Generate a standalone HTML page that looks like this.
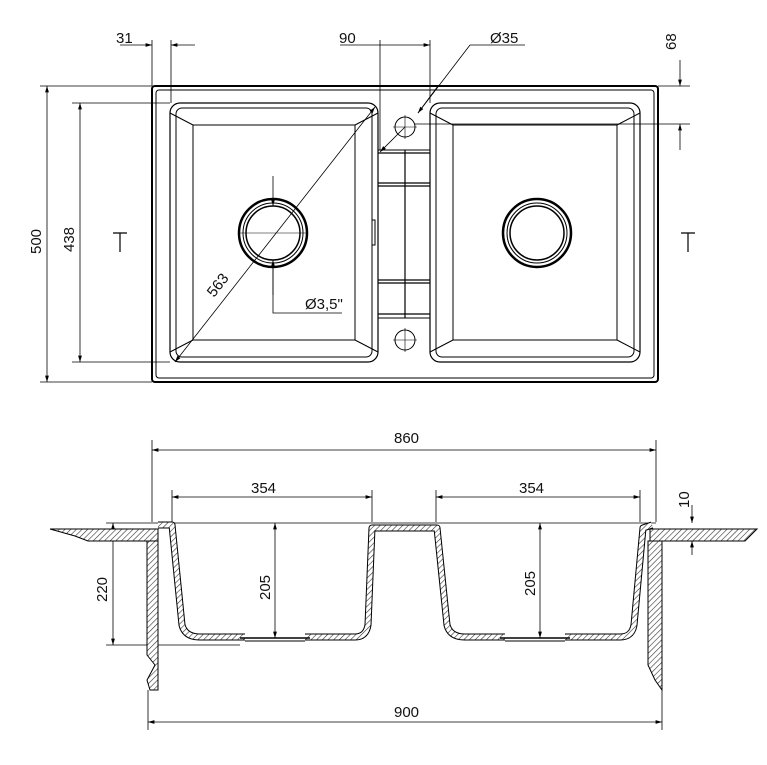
<!DOCTYPE html>
<html><head><meta charset="utf-8"><style>
body{margin:0;background:#fff}
svg{display:block}
text{font-family:"Liberation Sans Narrow","Liberation Sans",sans-serif;font-size:15px;fill:#111}
</style></head><body>
<svg width="767" height="765" viewBox="0 0 767 765" xmlns="http://www.w3.org/2000/svg">
<defs>
<pattern id="h" width="4" height="4" patternUnits="userSpaceOnUse" patternTransform="rotate(45)">
<rect width="4" height="4" fill="#fff"/><line x1="0" y1="0" x2="0" y2="4" stroke="#333" stroke-width="1.2"/></pattern>
<marker id="a" viewBox="0 0 10 10" refX="10" refY="5" markerWidth="8" markerHeight="8" orient="auto-start-reverse"><path d="M0,2 L10,5 L0,8z" fill="#000"/></marker>
</defs>
<g fill="none" stroke="#000" stroke-width="1">
<rect x="152" y="86" width="506" height="296" rx="3" stroke-width="2"/>
<rect x="156" y="90" width="498" height="288" rx="3"/>
<rect x="170" y="103" width="208" height="259" rx="10" stroke-width="1.2"/>
<rect x="176" y="108" width="196" height="249" rx="6"/>
<rect x="193" y="125" width="162" height="215"/>
<rect x="430" y="103" width="210" height="259" rx="10" stroke-width="1.2"/>
<rect x="436" y="108" width="198" height="249" rx="6"/>
<rect x="453" y="125" width="164" height="215"/>
<path d="M170,113 L193,125 M378,113 L355,125 M170,352 L193,340 M378,352 L355,340 M430,113 L453,125 M640,113 L617,125 M430,352 L453,340 M640,352 L617,340"/>
<rect x="378" y="150" width="52" height="168"/>
<path d="M378,153 H430 M378,183 H430 M378,186 H430 M378,280 H430 M378,283 H430 M378,314 H430 M405,150 V318" stroke-width="1.2"/>
<rect x="372" y="220" width="3" height="25"/>
<circle cx="405" cy="127" r="10"/><circle cx="405" cy="340" r="10"/>
<path d="M393,127 H417 M405,115 V139 M393,340 H417 M405,328 V352" stroke-width=".6"/>
<circle cx="273" cy="233" r="34" stroke-width="2.5"/><circle cx="273" cy="233" r="30"/><circle cx="273" cy="233" r="27" stroke-width="1.5"/>
<circle cx="537" cy="233" r="34" stroke-width="2.5"/><circle cx="537" cy="233" r="30"/><circle cx="537" cy="233" r="27" stroke-width="1.5"/>
<path d="M240,233 H306" stroke-width=".6"/>
<path d="M273,176 V206" marker-end="url(#a)" stroke-width=".8"/>
<path d="M273,295 V260" marker-end="url(#a)" stroke-width=".8"/>
<path d="M273,260 V313 H342" stroke-width=".8"/>
<path d="M175,362 L375,107" marker-start="url(#a)" marker-end="url(#a)" stroke-width=".8"/>
<g stroke-width=".8">
<path d="M40,86 H152 M72,103 H170 M40,382 H152 M72,362 H170"/>
<path d="M47,86 V382" marker-start="url(#a)" marker-end="url(#a)"/>
<path d="M80,103 V362" marker-start="url(#a)" marker-end="url(#a)"/>
<path d="M152,40 V86 M171,40 V103"/>
<path d="M120,45 H152" marker-end="url(#a)"/><path d="M195,45 H171" marker-end="url(#a)"/>
<path d="M380,40 V150 M430,40 V103"/>
<path d="M340,45 H380 M380,45 H430" marker-end="url(#a)"/>
<path d="M470,45 H525 M470,45 L418,113" /><path d="M438,86 L418,113" marker-end="url(#a)"/>
<path d="M405,127 L380,152" marker-end="url(#a)"/>
<path d="M658,86 H690 M415,124 H690"/>
<path d="M680,60 V86" marker-end="url(#a)"/><path d="M680,150 V124" marker-end="url(#a)"/>
<path d="M113,233 H127 M120,233 V252 M681,233 H695 M688,233 V252" stroke-width="1.2"/>
<path d="M152,440 V522 M656,440 V522"/>
<path d="M152,450 H656" marker-start="url(#a)" marker-end="url(#a)"/>
<path d="M172,490 V522 M372,490 V522 M436,490 V522 M640,490 V522"/>
<path d="M172,497 H372" marker-start="url(#a)" marker-end="url(#a)"/>
<path d="M436,497 H640" marker-start="url(#a)" marker-end="url(#a)"/>
<path d="M148,690 V730 M662,690 V730"/>
<path d="M148,722 H662" marker-start="url(#a)" marker-end="url(#a)"/>
<path d="M106,523 H160 M106,645 H240"/>
<path d="M113,523 V645" marker-start="url(#a)" marker-end="url(#a)"/>
<path d="M275,523 V638" marker-start="url(#a)" marker-end="url(#a)"/>
<path d="M540,523 V638" marker-start="url(#a)" marker-end="url(#a)"/>
<path d="M172,523 H656"/>
<path d="M692,505 V523" marker-end="url(#a)"/><path d="M692,555 V541" marker-end="url(#a)"/>
<path d="M660,541 H700"/>
</g>
</g>
<g stroke="#000" stroke-width="1">
<path d="M50,529 H158 V541 H88 L75,536 Z" fill="url(#h)"/>
<path d="M147,541 H158 V690 H150 L147,680 L155,665 L147,655 Z" fill="url(#h)"/>
<path d="M650,529 H757 L745,541 H650 Z" fill="url(#h)"/>
<path d="M648,541 H662 V690 L655,680 L648,665 Z" fill="url(#h)"/>
</g>
<g fill="none" stroke-linejoin="round">
<path d="M158,525 H172 L182,625 Q185,637 200,637 H245 M305,637 H355 Q366,637 368,625 L372,528 H437 L447,625 Q450,637 465,637 H505 M565,637 H620 Q632,637 634,625 L643,528 L652,525" stroke="#000" stroke-width="7"/>
<path d="M158,525 H172 L182,625 Q185,637 200,637 H245 M305,637 H355 Q366,637 368,625 L372,528 H437 L447,625 Q450,637 465,637 H505 M565,637 H620 Q632,637 634,625 L643,528 L652,525" stroke="url(#h)" stroke-width="5"/>
<path d="M240,638 H310 M500,638 H570" stroke="#000" stroke-width="1.5"/>
<path d="M245,641 H305 M505,641 H565" stroke="#000" stroke-width="1"/>
</g>
<text x="116" y="43">31</text>
<text x="339" y="43">90</text>
<text x="490" y="43">Ø35</text>
<text x="305" y="309">Ø3,5"</text>
<text x="394" y="443">860</text>
<text x="251" y="493">354</text>
<text x="519" y="493">354</text>
<text x="394" y="717">900</text>
<text transform="translate(41,254) rotate(-90)">500</text>
<text transform="translate(74,252) rotate(-90)">438</text>
<text transform="translate(676,50) rotate(-90)">68</text>
<text transform="translate(689,508) rotate(-90)">10</text>
<text transform="translate(107,602) rotate(-90)">220</text>
<text transform="translate(270,600) rotate(-90)">205</text>
<text transform="translate(535,596) rotate(-90)">205</text>
<text transform="translate(214,298) rotate(-52)">563</text>
</svg>
</body></html>
